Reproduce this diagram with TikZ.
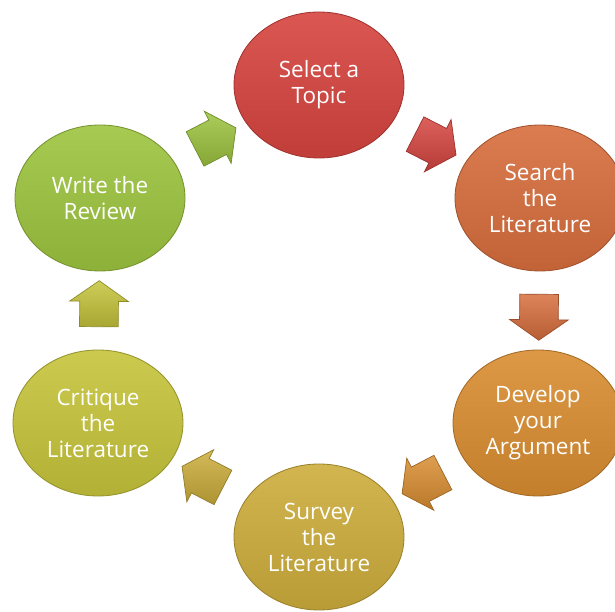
\documentclass[tikz,border=0pt]{standalone}
\usepackage{fontspec}
\setmainfont{Open Sans}
\usepackage{xcolor}
\definecolor{CycleRed}{HTML}{D6443F}
\definecolor{CycleOrange}{HTML}{D76E3D}
\definecolor{CycleAmber}{HTML}{D98D31}
\definecolor{CycleGold}{HTML}{CDAD3C}
\definecolor{CycleOlive}{HTML}{C6C43B}
\definecolor{CycleGreen}{HTML}{9DC43F}
\usetikzlibrary{positioning,shapes.geometric,shapes.arrows}

\begin{document}
\begin{tikzpicture}[
  stage/.style={ellipse, minimum width=4.25cm, minimum height=3.65cm,
    top color=#1!90!white, bottom color=#1!90!black, draw=#1!75!black,
    line width=0.6pt, text=white, align=center,
    font=\fontsize{16}{18.5}\selectfont},
  blockarrow/.style={single arrow, minimum height=1.15cm,
    single arrow head extend=0.25cm, single arrow tip angle=110,
    inner xsep=0pt, inner ysep=0.475cm,
    top color=#1!85!white, bottom color=#1!85!black, draw=#1!72!black,
    line width=0.5pt}]
  \useasboundingbox (0,0) rectangle (15.375,15.3);
  % the six stages, clockwise from the top
  \node[stage=CycleRed]    (topic)    at (7.975,13.175) {Select a\\Topic};
  \node[stage=CycleOrange] (search)   at (13.5,10.35)   {Search\\the\\Literature};
  \node[stage=CycleAmber]  (argue)    at (13.45,4.725)  {Develop\\your\\Argument};
  \node[stage=CycleGold]   (survey)   at (7.975,1.875)  {Survey\\the\\Literature};
  \node[stage=CycleOlive]  (critique) at (2.45,4.725)   {Critique\\the\\Literature};
  \node[stage=CycleGreen]  (review)   at (2.5,10.35)    {Write the\\Review};
  % block arrows between neighbouring stages
  \foreach \a/\b/\c in {topic/search/CycleRed, search/argue/CycleOrange,
      argue/survey/CycleAmber, survey/critique/CycleGold,
      critique/review/CycleOlive, review/topic/CycleGreen}
    \path (\a) -- (\b) node[midway, sloped, allow upside down, blockarrow=\c] {};
\end{tikzpicture}
\end{document}
